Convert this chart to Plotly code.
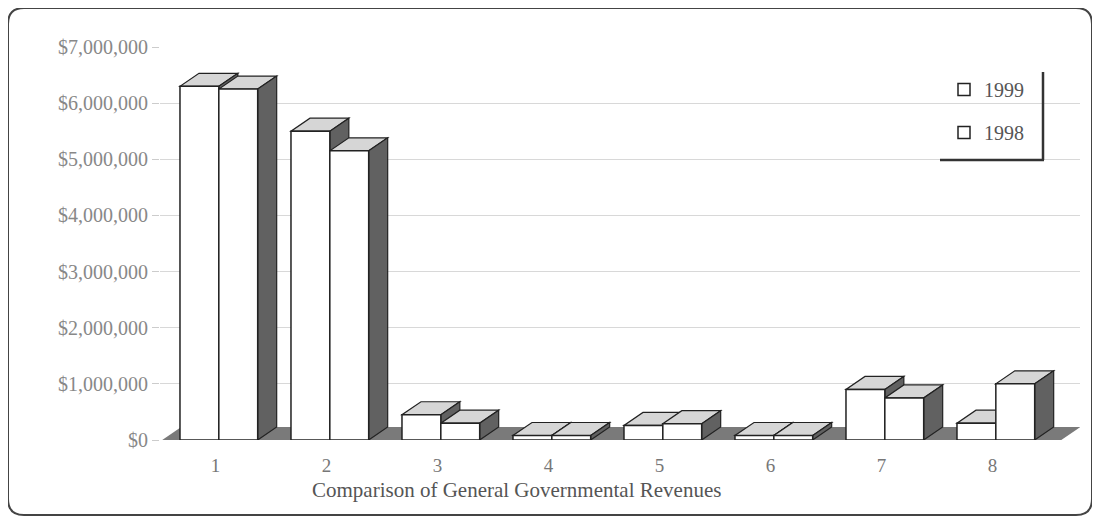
import plotly.graph_objects as go

categories = ["1", "2", "3", "4", "5", "6", "7", "8"]
rev_1999 = [6300000, 5500000, 450000, 80000, 260000, 80000, 900000, 300000]
rev_1998 = [6250000, 5150000, 300000, 80000, 290000, 80000, 750000, 1000000]
y_ticks = [0, 1000000, 2000000, 3000000, 4000000, 5000000, 6000000, 7000000]
y_tick_labels = ["$0", "$1,000,000", "$2,000,000", "$3,000,000", "$4,000,000",
                 "$5,000,000", "$6,000,000", "$7,000,000"]

FONT = "Liberation Serif"
OFF = 8  # page body margin
W, H = 1100, 522
L, R, T, B = 160 - OFF, W - (1080 - OFF), 47 - OFF, H - (440 - OFF)
pw, ph = W - L - R, H - T - B

def px(x):
    return (x - OFF - L) / pw

def py(y):
    return (H - B - (y - OFF)) / ph

pos = list(range(1, len(categories) + 1))
XMAX = 0.5 + pw / 111.0
BW = 0.35                      # bar width in category units
DX = 19 / 111.0                # depth offset x (category units)
DY = 7000000 * 13 / ph         # depth offset y (data units)

fig = go.Figure()
fig.add_trace(go.Bar(name="1999", x=pos, y=rev_1999, width=BW, offset=-BW + 0.03,
                     legendgroup="a",
                     marker=dict(color="white", line=dict(color="#222", width=1.5))))
fig.add_trace(go.Bar(name="1998", x=pos, y=rev_1998, width=BW, offset=0.03,
                     legendgroup="b",
                     marker=dict(color="white", line=dict(color="#222", width=1.5))))

def poly(pts, fill, lw=1.2):
    p = "M " + " L ".join(f"{a},{b}" for a, b in pts) + " Z"
    return dict(type="path", xref="x", yref="y", path=p, fillcolor=fill,
                line=dict(color="#222", width=lw), layer="between")

shapes = []
# floor
shapes.append(dict(type="path", xref="x", yref="y",
                   path=f"M 0.52,0 L 8.62,0 L {8.62+DX},{DY} L {0.52+DX},{DY} Z",
                   fillcolor="#7a7a7a", line=dict(width=0), layer="between"))
for i, v99, v98 in zip(pos, rev_1999, rev_1998):
    for x0, v in ((i - BW + 0.03, v99), (i + 0.03, v98)):
        x1 = x0 + BW
        shapes.append(poly([(x0, v), (x1, v), (x1 + DX, v + DY), (x0 + DX, v + DY)], "#d6d6d6"))
        shapes.append(poly([(x1, 0), (x1 + DX, DY), (x1 + DX, v + DY), (x1, v)], "#616161"))

# rounded outer frame
x0, x1, y0, y1 = px(8), px(1092), py(8), py(515)
rx, ry = 16 / pw, 16 / ph
path = (f"M {x0+rx},{y0} L {x1-rx},{y0} Q {x1},{y0} {x1},{y0-ry} "
        f"L {x1},{y1+ry} Q {x1},{y1} {x1-rx},{y1} L {x0+rx},{y1} "
        f"Q {x0},{y1} {x0},{y1+ry} L {x0},{y0-ry} Q {x0},{y0} {x0+rx},{y0} Z")
shapes += [
    dict(type="path", xref="paper", yref="paper", path=path,
         line=dict(color="#444", width=2), layer="below"),
    # legend frame (right and bottom edges)
    dict(type="line", xref="paper", yref="paper", x0=px(1043), x1=px(1043),
         y0=py(72), y1=py(160), line=dict(color="#333", width=2.5)),
    dict(type="line", xref="paper", yref="paper", x0=px(940), x1=px(1044),
         y0=py(160), y1=py(160), line=dict(color="#333", width=2.5)),
]

fig.update_layout(
    width=W, height=H,
    margin=dict(l=L, r=R, t=T, b=B),
    paper_bgcolor="white", plot_bgcolor="white",
    barmode="overlay",
    font=dict(family=FONT, size=20, color="#777"),
    shapes=shapes,
    showlegend=True,
    legend=dict(x=px(944), y=py(70), xanchor="left", yanchor="top",
                bgcolor="rgba(0,0,0,0)", font=dict(family=FONT, size=20, color="#555"),
                traceorder="grouped", tracegroupgap=14, itemwidth=30),
    annotations=[dict(text="Comparison of General Governmental Revenues",
                      xref="paper", yref="paper", x=px(516), y=py(490),
                      xanchor="center", yanchor="middle", showarrow=False,
                      font=dict(family=FONT, size=21, color="#555"))],
    xaxis=dict(range=[0.5, XMAX], tickvals=pos, ticktext=categories,
               tickfont=dict(family=FONT, size=19, color="#777"), ticklabelstandoff=12,
               showline=False, ticks="", showgrid=False, zeroline=False),
    yaxis=dict(range=[0, 7000000], tickvals=y_ticks, ticktext=y_tick_labels,
               showgrid=True, gridcolor="#d8d8d8", gridwidth=1,
               zeroline=False, showline=False, ticks="outside", ticklen=7,
               tickcolor="#ccc", tickfont=dict(family=FONT, size=20, color="#888")),
)

fig.write_html("out.html")
